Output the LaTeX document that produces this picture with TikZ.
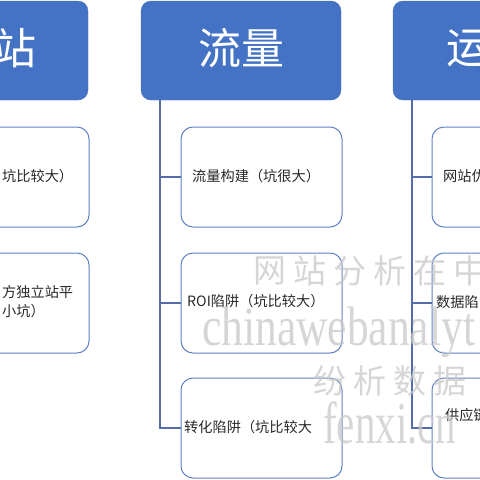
\documentclass[tikz,border=0pt]{standalone}
\usepackage{fontspec}
\setmainfont{Liberation Serif}
\newfontfamily\cjk{Noto Sans CJK SC}
\newfontfamily\wmserif{Liberation Serif}
\definecolor{topblue}{RGB}{68,114,196}
\definecolor{boxline}{RGB}{96,128,198}
\definecolor{connc}{RGB}{84,108,170}
\definecolor{wmc}{RGB}{200,200,200}
\definecolor{txt}{RGB}{40,40,40}
\begin{document}
\begin{tikzpicture}[x=1pt,y=-1pt,
  topbox/.style={draw=topblue, fill=topblue, rounded corners=10pt,
    minimum width=200pt, minimum height=99pt, inner sep=0pt},
  toptext/.style={inner sep=0pt, text=white, font=\cjk\fontsize{43}{43}\selectfont},
  childbox/.style={draw=boxline, line width=1pt, fill=white, rounded corners=12pt,
    minimum width=161pt, minimum height=100pt, inner sep=0pt},
  itemtext/.style={anchor=west, inner sep=0pt, text=txt, align=left,
    font=\cjk\fontsize{14.2}{19}\selectfont},
  connline/.style={draw=connc, line width=1.1pt},
  wmcjk/.style={inner sep=0pt, text=wmc, text opacity=0.75,
    font=\cjk\fontsize{33}{33}\selectfont},
  wmlatin/.style={inner sep=0pt, anchor=base west, text=wmc, text opacity=0.75}
]
\useasboundingbox (0,0) rectangle (480,480);
\clip (0,0) rectangle (480,480);

% top boxes
\node[topbox] (ltop) at (-12,50.5) {};
\node[topbox] (mtop) at (241,50.5) {};
\node[topbox] (rtop) at (493,50.5) {};
\node[toptext] (ltopt) at (15,48) {站};
\node[toptext] (mtopt) at (241,48) {流量};
\node[toptext, anchor=west] (rtopt) at (446,48) {运};

% child boxes
\node[childbox] (l1) at (8.5,177) {};
\node[childbox] (l2) at (8.5,303) {};
\node[childbox] (m1) at (261.5,177) {};
\node[childbox] (m2) at (261.5,303) {};
\node[childbox] (m3) at (261.5,428) {};
\node[childbox] (r1) at (512.5,177) {};
\node[childbox] (r2) at (512.5,303) {};
\node[childbox] (r3) at (512.5,428) {};

% connectors
\foreach \c in {l1,l2} \draw[connline] ([xshift=-81pt]ltop.south) |- (\c.west);
\foreach \c in {m1,m2,m3} \draw[connline] ([xshift=-81pt]mtop.south) |- (\c.west);
\foreach \c in {r1,r2,r3} \draw[connline] ([xshift=-81pt]rtop.south) |- (\c.west);

% item texts
\node[itemtext] (l1t) at (2,176.5) {坑比较大）};
\node[itemtext] (l2t) at (2,301.5) {方独立站平\\小坑）};
\node[itemtext] (m1t) at (192,176.5) {流量构建（坑很大）};
\node[itemtext] (m2t) at (187,301.5) {ROI陷阱（坑比较大）};
\node[itemtext] (m3t) at (184,427) {转化陷阱（坑比较大};
\node[itemtext] (r1t) at (443,176.5) {网站优};
\node[itemtext] (r2t) at (436,302) {数据陷};
\node[itemtext] (r3t) at (445,415) {供应链};

% watermark
\foreach \ch [count=\i from 0] in {网,站,分,析,在,中}
  \node[wmcjk] (wa\i) at (269.5+40*\i,271) {\ch};
\node[wmlatin, font=\wmserif\fontsize{43.5}{43.5}\selectfont] (wb) at (202,345)
  {\scalebox{1}[1.28]{chinawebanalyt}};
\foreach \ch [count=\i from 0] in {纷,析,数,据}
  \node[wmcjk] (wc\i) at (329.5+40*\i,381) {\ch};
\node[wmlatin, font=\wmserif\fontsize{41}{41}\selectfont] (wd) at (323,443)
  {\scalebox{1}[1.45]{fenxi.cn}};
\end{tikzpicture}
\end{document}
